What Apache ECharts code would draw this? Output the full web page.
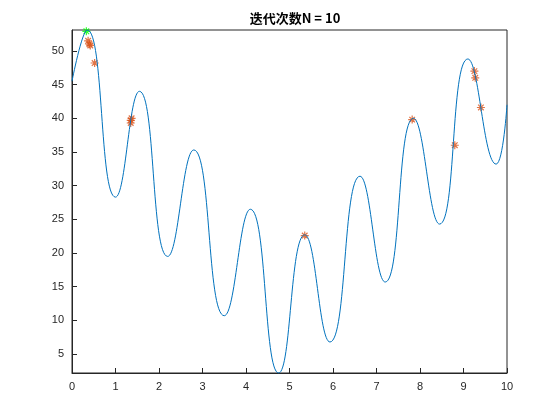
<!DOCTYPE html>
<html><head><meta charset="utf-8">
<script src="https://cdn.jsdelivr.net/npm/echarts@6/dist/echarts.min.js"></script>
<style>body{margin:0;background:#fff}#c{width:560px;height:420px}</style>
</head><body><div id="c"></div>
<script>
// curve (end points and turning points)
const curveX = [0, 0.35, 1.0, 1.55, 2.2, 2.8, 3.5, 4.1, 4.75, 5.35, 5.93, 6.62, 7.2, 7.85, 8.45, 9.1, 9.75, 10];
const curveY = [45.5, 53.1, 28.3, 44, 19.5, 35.3, 10.7, 26.5, 2.2, 22.7, 6.8, 31.4, 15.7, 40, 24.3, 48.8, 33.2, 42];
const popX = [0.37, 0.4, 0.42, 0.52, 1.35, 1.37, 1.35, 5.35, 7.82, 8.8, 9.25, 9.27, 9.4];
const popY = [51.5, 51, 50.8, 48.2, 39.3, 40, 39.7, 22.6, 39.8, 36, 47, 46, 41.6];
const bestX = [0.33];
const bestY = [52.9];
const xTicks = [0, 1, 2, 3, 4, 5, 6, 7, 8, 9, 10];
const yTicks = [5, 10, 15, 20, 25, 30, 35, 40, 45, 50];

const chart = echarts.init(document.getElementById('c'));
const zip = (a, b) => a.map((v, i) => [v, b[i]]);
const star = 'path://M0,-10L0,10M-10,0L10,0M-7,-7L7,7M-7,7L7,-7';
const ax = {
  axisLine: { lineStyle: { color: '#262626' } },
  axisTick: { inside: true, length: 5, lineStyle: { color: '#262626' } },
  axisLabel: { color: '#262626', fontSize: 11, fontFamily: 'Liberation Sans' },
  splitLine: { show: false }
};
chart.setOption({
  animation: false,
  title: { text: '迭代次数N = 10', left: 290, top: 7, textAlign: 'center',
    textStyle: { fontSize: 13, fontWeight: 'bold', color: '#000', fontFamily: 'Noto Sans CJK SC' } },
  grid: { left: 72, right: 53, top: 30, bottom: 47, show: true, borderColor: '#262626', borderWidth: 1 },
  xAxis: Object.assign({}, ax, { type: 'value', min: 0, max: 10, interval: 1,
    axisLabel: Object.assign({}, ax.axisLabel, { customValues: xTicks }),
    axisTick: Object.assign({}, ax.axisTick, { customValues: xTicks }) }),
  yAxis: Object.assign({}, ax, { type: 'value', min: 2.2, max: 53.1,
    axisLabel: Object.assign({}, ax.axisLabel, { customValues: yTicks }),
    axisTick: Object.assign({}, ax.axisTick, { customValues: yTicks }) }),
  series: [
    { type: 'line', data: zip(curveX, curveY), smooth: 0.5, showSymbol: false,
      lineStyle: { color: '#0072BD', width: 1 } },
    { type: 'scatter', data: zip(popX, popY), symbol: star, symbolSize: 8,
      itemStyle: { color: 'none', borderColor: '#D95319', borderWidth: 1.2 } },
    { type: 'scatter', data: zip(bestX, bestY), symbol: star, symbolSize: 8,
      itemStyle: { color: 'none', borderColor: '#00FF00', borderWidth: 1.2 } }
  ]
});
</script></body></html>
